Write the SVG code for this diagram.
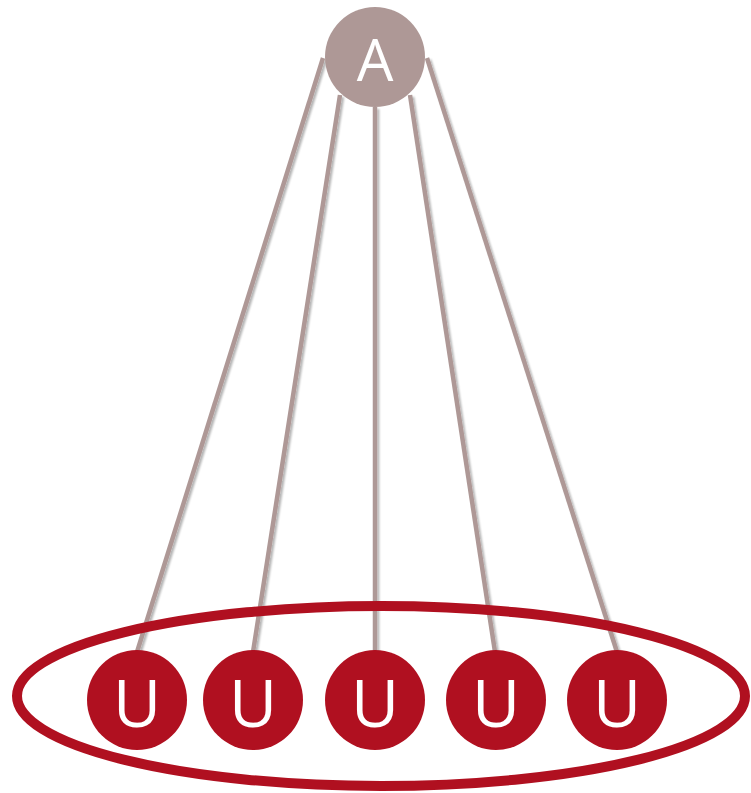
<svg xmlns="http://www.w3.org/2000/svg" width="751" height="793" viewBox="0 0 751 793">
<style>
.edge{stroke:#ae9896;stroke-width:4.5;fill:none;filter:url(#sh)}
.u{fill:#b01020}
.a{fill:#ae9896}
.lbl{font-family:"Open Sans","Liberation Sans",sans-serif;font-weight:400;fill:#ffffff;text-anchor:middle}
.la{font-size:58px}
.lu{font-size:66px}
</style>
<defs>
<filter id="sh" filterUnits="userSpaceOnUse" x="0" y="0" width="751" height="793">
<feGaussianBlur in="SourceAlpha" stdDeviation="1.2"/>
<feOffset dx="1.5" dy="1.5" result="b"/>
<feComponentTransfer><feFuncA type="linear" slope="0.3"/></feComponentTransfer>
<feMerge><feMergeNode/><feMergeNode in="SourceGraphic"/></feMerge>
</filter>
</defs>
<rect width="751" height="793" fill="#ffffff"/>
<g id="connectors">
<line class="edge" x1="323" y1="58" x2="137" y2="652"/>
<line class="edge" x1="340" y1="95" x2="253" y2="652"/>
<line class="edge" x1="375" y1="107" x2="375" y2="652"/>
<line class="edge" x1="410" y1="95" x2="495" y2="652"/>
<line class="edge" x1="427" y1="58" x2="617" y2="652"/>
</g>
<g id="group-ellipse">
<ellipse cx="381" cy="696" rx="364" ry="90" fill="none" stroke="#b01020" stroke-width="10"/>
</g>
<g id="node-A">
<circle class="a" cx="375" cy="57" r="50"/>
<text class="lbl la" x="375" y="81">A</text>
</g>
<g id="node-U1"><circle class="u" cx="137" cy="700" r="50"/><text class="lbl lu" x="137" y="727">U</text></g>
<g id="node-U2"><circle class="u" cx="253" cy="700" r="50"/><text class="lbl lu" x="253" y="727">U</text></g>
<g id="node-U3"><circle class="u" cx="375" cy="700" r="50"/><text class="lbl lu" x="375" y="727">U</text></g>
<g id="node-U4"><circle class="u" cx="496" cy="700" r="50"/><text class="lbl lu" x="496" y="727">U</text></g>
<g id="node-U5"><circle class="u" cx="617" cy="700" r="50"/><text class="lbl lu" x="617" y="727">U</text></g>
</svg>
